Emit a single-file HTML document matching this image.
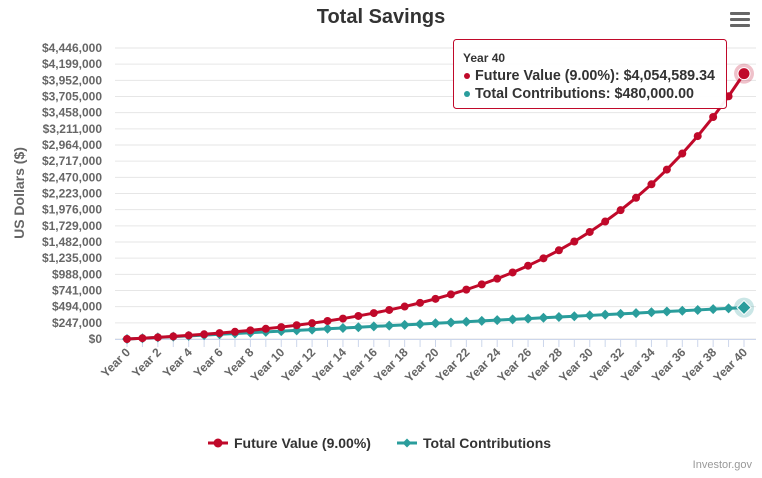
<!DOCTYPE html>
<html><head><meta charset="utf-8"><style>
body{margin:0;background:#fff;font-family:"Liberation Sans",sans-serif}
svg text{font-family:"Liberation Sans",sans-serif}
</style></head><body>
<svg id="chart" width="762" height="473" viewBox="0 0 762 473" xmlns="http://www.w3.org/2000/svg">
<rect width="762" height="473" fill="#fff"/>
<text x="381" y="23" text-anchor="middle" font-size="20" font-weight="bold" fill="#333">Total Savings</text>
<g fill="#666">
<rect x="730" y="12" width="20" height="3" rx="1"/><rect x="730" y="18" width="20" height="3" rx="1"/><rect x="730" y="24" width="20" height="3" rx="1"/>
</g>
<text x="24" y="193" transform="rotate(-90 24 193)" text-anchor="middle" font-size="14" font-weight="bold" fill="#666">US Dollars ($)</text>
<g id="grid"></g><g id="yticks"></g><g id="xticks"></g><g id="series"></g>
<g>
<g>
<line x1="208" y1="443" x2="228" y2="443" stroke="#c0092a" stroke-width="3"/><circle cx="218" cy="443" r="4.5" fill="#c0092a"/>
<text x="234" y="448" font-size="14" font-weight="bold" fill="#333">Future Value (9.00%)</text></g>
<g>
<line x1="397" y1="443" x2="417" y2="443" stroke="#2a9d9c" stroke-width="3"/><path d="M407 438.5 L411.5 443 L407 447.5 L402.5 443Z" fill="#2a9d9c"/>
<text x="423" y="448" font-size="14" font-weight="bold" fill="#333">Total Contributions</text></g>
</g>
<text x="752" y="468" text-anchor="end" font-size="11" fill="#999">Investor.gov</text>
<g>
<rect x="453.5" y="39.5" width="273" height="69" rx="3" fill="#fff" fill-opacity="0.95" stroke="#c0092a" stroke-width="1"/>
<text x="463" y="62" font-size="12" font-weight="bold" fill="#333">Year 40</text>
<circle cx="467" cy="76" r="3" fill="#c0092a"/>
<text x="475" y="80" font-size="14.3" font-weight="bold" fill="#333">Future Value (9.00%): $4,054,589.34</text>
<circle cx="467" cy="94" r="3" fill="#2a9d9c"/>
<text x="475" y="98" font-size="14.3" font-weight="bold" fill="#333">Total Contributions: $480,000.00</text>
</g>
</svg>
<script>
const years=[0,1,2,3,4,5,6,7,8,9,10,11,12,13,14,15,16,17,18,19,20,21,22,23,24,25,26,27,28,29,30,31,32,33,34,35,36,37,38,39,40];
const futureValue=[0,12000,25080,39337,54878,71813,90281,110406,132342,156253,182315,210724,241689,275441,312230,352331,396041,443684,495616,552222,613921,681175,754481,834383,921478,1016411,1119888,1232678,1355619,1489624,1635691,1794903,1968444,2157604,2363788,2588529,2833497,3100511,3391557,3708798,4054589];
const contributions=[0,12000,24000,36000,48000,60000,72000,84000,96000,108000,120000,132000,144000,156000,168000,180000,192000,204000,216000,228000,240000,252000,264000,276000,288000,300000,312000,324000,336000,348000,360000,372000,384000,396000,408000,420000,432000,444000,456000,468000,480000];
const yTicks=[0,247000,494000,741000,988000,1235000,1482000,1729000,1976000,2223000,2470000,2717000,2964000,3211000,3458000,3705000,3952000,4199000,4446000];
const NS='http://www.w3.org/2000/svg';
const X0=127,X1=744,Y0=339,Y1=48,YMAX=4446000;
const xs=v=>X0+(X1-X0)*v/40, ys=v=>Y0-(Y0-Y1)*v/YMAX;
function mk(t,a,p){const e=document.createElementNS(NS,t);for(const k in a)e.setAttribute(k,a[k]);p.appendChild(e);return e;}
const grid=document.getElementById('grid'),yt=document.getElementById('yticks'),xt=document.getElementById('xticks'),se=document.getElementById('series');
yTicks.forEach(v=>{
 const l=mk('line',{x1:X0-12,x2:X1+12,y1:ys(v),y2:ys(v),stroke:'#e6e6e6','stroke-width':1},grid);
 
 
 const t=mk('text',{x:102,y:ys(v)+4,'text-anchor':'end','font-size':12,'font-weight':'bold',fill:'#666'},yt);
 t.textContent='$'+v.toLocaleString('en-US');
 
 
});
mk('line',{x1:X0-12,x2:X1+12,y1:Y0+0.5,y2:Y0+0.5,stroke:'#ccd6eb'},grid);
years.forEach(y=>{
 mk('line',{x1:xs(y),x2:xs(y),y1:Y0,y2:Y0+8,stroke:'#ccd6eb'},xt);
 if(y%2===0){
  const t=mk('text',{x:xs(y)+4,y:Y0+14,'text-anchor':'end','font-size':12,'font-weight':'bold',fill:'#666',transform:`rotate(-45 ${xs(y)+4} ${Y0+14})`},xt);
  t.textContent='Year '+y;
  
  
 }
});
function series(vals,color,diamond,name){
 const g=mk('g',{},se);
 
 
 mk('polyline',{points:vals.map((v,i)=>xs(years[i])+','+ys(v)).join(' '),fill:'none',stroke:color,'stroke-width':3,'stroke-linejoin':'round'},g);
 const last=vals.length-1;
 mk('circle',{cx:xs(years[last]),cy:ys(vals[last]),r:10,fill:color,'fill-opacity':0.25},g);
 vals.forEach((v,i)=>{
  const x=xs(years[i]),y=ys(v),r=(i===last)?6:4;
  let m;
  if(diamond)m=mk('path',{d:`M${x} ${y-r-1}L${x+r+1} ${y}L${x} ${y+r+1}L${x-r-1} ${y}Z`,fill:color,stroke:i===last?'#fff':'none'},g);
  else m=mk('circle',{cx:x,cy:y,r:r,fill:color,stroke:i===last?'#fff':'none'},g);
  
  
 });
}
series(contributions,'#2a9d9c',true,'total-contributions-series');
series(futureValue,'#c0092a',false,'future-value-series');
</script>
</body></html>
